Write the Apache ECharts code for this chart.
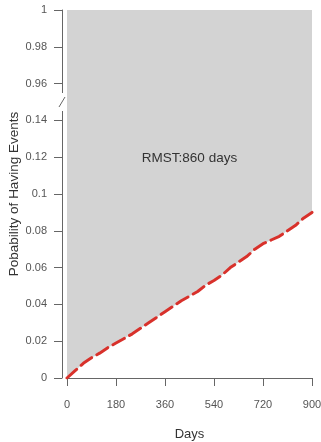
<!DOCTYPE html>
<html>
<head>
<meta charset="utf-8">
<style>
  html, body { margin: 0; padding: 0; background: #ffffff; }
  #chart { width: 321px; height: 442px; }
</style>
<script src="https://cdn.jsdelivr.net/npm/echarts@6/dist/echarts.min.js"></script>
</head>
<body>
<div id="chart"></div>
<script>
// Data (days, cumulative probability of having events)
const days = [0, 30, 60, 90, 120, 150, 180, 210, 240, 270, 300, 330, 360, 390, 420, 450,
              480, 510, 540, 570, 600, 630, 660, 690, 720, 750, 780, 810, 840, 870, 900];
const probability = [0, 0.004, 0.008, 0.011, 0.0135, 0.0165, 0.019, 0.0215, 0.024, 0.027,
                     0.030, 0.033, 0.036, 0.039, 0.042, 0.0445, 0.047, 0.0505, 0.053, 0.056,
                     0.060, 0.063, 0.066, 0.070, 0.073, 0.075, 0.077, 0.080, 0.083, 0.087, 0.090];
const xTicks = [0, 180, 360, 540, 720, 900];
// y axis is broken: lower segment 0..0.15, upper segment 0.95..1 (shown shifted by -0.8)
const yTickLabels = ['0', '0.02', '0.04', '0.06', '0.08', '0.1', '0.12', '0.14', '0.96', '0.98', '1'];
const breakShift = 0.8;
const breakAt = 0.15;
const rmstText = 'RMST:860 days';
const xName = 'Days';
const yName = 'Pobability of Having Events';

const chart = echarts.init(document.getElementById('chart'), null, { renderer: 'canvas' });
const axisColor = '#666666';
const labelColor = '#555555';
const fontFamily = 'Liberation Sans, Arial, sans-serif';

chart.setOption({
  animation: false,
  backgroundColor: '#ffffff',
  grid: {
    left: 67, right: 9, top: 10, bottom: 64,
    containLabel: false,
    outerBoundsMode: 'none',
    show: true, backgroundColor: '#d3d3d3', borderWidth: 0
  },
  xAxis: {
    type: 'value',
    min: 0, max: 900, interval: 180,
    axisLine: { show: true, onZero: false, lineStyle: { color: axisColor, width: 1 } },
    axisTick: { show: true, length: 8, lineStyle: { color: axisColor } },
    axisLabel: {
      color: labelColor, fontSize: 11, fontFamily: fontFamily, margin: 21,
      customValues: xTicks
    },
    splitLine: { show: false },
    name: xName, nameLocation: 'middle', nameGap: 50, nameMoveOverlap: false,
    nameTextStyle: { color: '#333333', fontSize: 13, fontFamily: fontFamily }
  },
  yAxis: {
    type: 'value',
    min: 0, max: 0.2, interval: 0.02,
    offset: 5,
    axisLine: { show: true, onZero: false, lineStyle: { color: axisColor, width: 1 } },
    axisTick: { show: true, length: 8, lineStyle: { color: axisColor } },
    axisLabel: {
      color: labelColor, fontSize: 11, fontFamily: fontFamily, margin: 15,
      formatter: function (v) {
        const i = Math.round(v / 0.02);
        return yTickLabels[i] !== undefined ? yTickLabels[i] : '';
      }
    },
    splitLine: { show: false },
    name: yName, nameLocation: 'middle', nameGap: 41, nameRotate: 90, nameMoveOverlap: false,
    nameTextStyle: { color: '#333333', fontSize: 13.5, fontFamily: fontFamily }
  },
  series: [{
    type: 'line',
    data: days.map((d, i) => [d, probability[i]]),
    showSymbol: false,
    smooth: false,
    lineStyle: { color: '#d8312b', width: 3, type: [13, 6], cap: 'round' },
    areaStyle: { color: '#ffffff', opacity: 1, origin: 'start' },
    z: 3
  }]
});

// Decorations: axis break mark and annotation, placed via the axes' own scales
const bx = chart.convertToPixel({ xAxisIndex: 0 }, 0) - 5;
const by = chart.convertToPixel({ yAxisIndex: 0 }, breakAt);
const tx = chart.convertToPixel({ xAxisIndex: 0 }, 450);
const ty = chart.convertToPixel({ yAxisIndex: 0 }, 0.1195);
chart.setOption({
  graphic: [
    { type: 'rect', shape: { x: bx - 3, y: by - 9, width: 6, height: 18 },
      style: { fill: '#ffffff' }, z: 100 },
    { type: 'line', shape: { x1: bx - 3, y1: by + 5, x2: bx + 3, y2: by - 5 },
      style: { stroke: axisColor, lineWidth: 1 }, z: 101 },
    { type: 'text', x: tx, y: ty,
      style: { text: rmstText, fill: '#333333', fontSize: 13.5, fontFamily: fontFamily,
               align: 'center', verticalAlign: 'middle' }, z: 50 }
  ]
});
</script>
</body>
</html>
